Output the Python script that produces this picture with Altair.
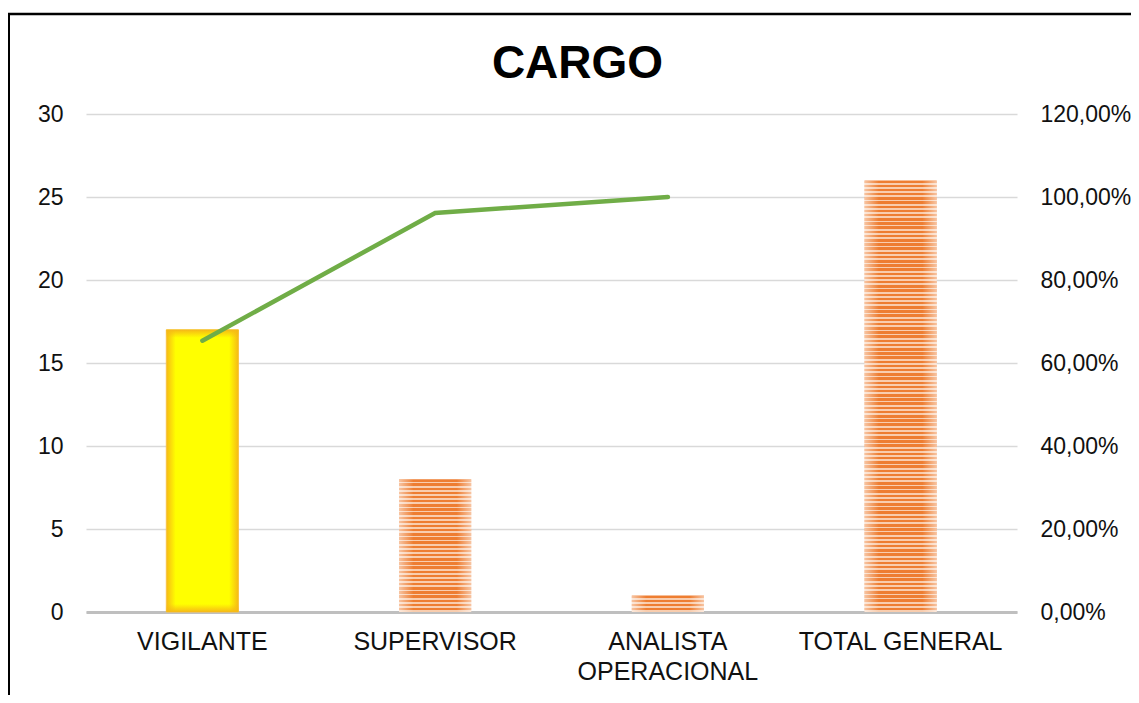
import altair as alt
import pandas as pd

# ---- data ----
categories = ["VIGILANTE", "SUPERVISOR", "ANALISTA OPERACIONAL", "TOTAL GENERAL"]
counts = [17, 8, 1, 26]
line_categories = ["VIGILANTE", "SUPERVISOR", "ANALISTA OPERACIONAL"]
cumulative_pct = [0.6538, 0.9615, 1.0]
left_ticks = [0, 5, 10, 15, 20, 25, 30]
right_ticks = [0, 0.2, 0.4, 0.6, 0.8, 1.0, 1.2]

W, H = 931, 498
PX_PER_UNIT = H / 30
FONT = "Liberation Sans"
DARK = "#EE7D31"
LIGHT = "#F9CDAE"
ORANGE_EDGE = "#F6B916"

bars_df = pd.DataFrame({"cargo": categories, "n": counts})
line_df = pd.DataFrame({"cargo": line_categories, "pct": cumulative_pct})
one_df = pd.DataFrame({"k": [0]})

label_expr = ("datum.label == 'ANALISTA OPERACIONAL' ? "
              "['ANALISTA', 'OPERACIONAL'] : datum.label")

x_axis = alt.Axis(title=None, labelAngle=0, ticks=False, domain=True,
                  domainColor="#BFBFBF", domainWidth=3, labelFontSize=25,
                  labelPadding=17, labelLineHeight=30, labelColor="#111111",
                  labelFont=FONT, labelExpr=label_expr, grid=False,
                  labelLimit=400, labelOverlap=False)
x_enc = alt.X("cargo:N", sort=categories,
              scale=alt.Scale(domain=categories, paddingInner=0.69, paddingOuter=0.345),
              axis=x_axis)

y_axis = alt.Axis(title=None, values=left_ticks, grid=True, gridColor="#D9D9D9",
                  gridWidth=1.5, domain=False, ticks=False, labelPadding=23,
                  labelFontSize=23, labelColor="#111111", labelFont=FONT)
y_enc = alt.Y("n:Q", scale=alt.Scale(domain=[0, 30], nice=False), axis=y_axis)


def stripe_gradient(value):
    n = max(1, round(value * PX_PER_UNIT / 4.2))
    stops = []
    for i in range(n):
        a = i / n
        b = (i + 0.6) / n
        c = (i + 1) / n
        stops += [alt.GradientStop(offset=a, color=DARK),
                  alt.GradientStop(offset=b, color=DARK),
                  alt.GradientStop(offset=b, color=LIGHT),
                  alt.GradientStop(offset=c, color=LIGHT)]
    return alt.LinearGradient(gradient="linear", stops=stops, x1=0, y1=0, x2=0, y2=1)


vig_fill_h = alt.LinearGradient(
    gradient="linear", x1=0, y1=0, x2=1, y2=0,
    stops=[alt.GradientStop(offset=0, color=ORANGE_EDGE),
           alt.GradientStop(offset=0.13, color="#FFFF00"),
           alt.GradientStop(offset=0.87, color="#FFFF00"),
           alt.GradientStop(offset=1, color=ORANGE_EDGE)])


def vig_fill_v(value):
    e = 8 / (value * PX_PER_UNIT)
    return alt.LinearGradient(
        gradient="linear", x1=0, y1=0, x2=0, y2=1,
        stops=[alt.GradientStop(offset=0, color="rgba(246,185,22,1)"),
               alt.GradientStop(offset=e, color="rgba(246,185,22,0)"),
               alt.GradientStop(offset=1 - e, color="rgba(246,185,22,0)"),
               alt.GradientStop(offset=1, color="rgba(246,185,22,1)")])


base = alt.Chart(bars_df)
bar_layers = [
    base.transform_filter(alt.datum.cargo == categories[0])
    .mark_bar(color=vig_fill_h, stroke="#F7C445", strokeWidth=1)
    .encode(x=x_enc, y=y_enc),
    base.transform_filter(alt.datum.cargo == categories[0])
    .mark_bar(color=vig_fill_v(counts[0]))
    .encode(x=x_enc, y=y_enc),
]
for cat, val in zip(categories[1:], counts[1:]):
    bar_layers.append(
        base.transform_filter(alt.datum.cargo == cat)
        .mark_bar(color=stripe_gradient(val))
        .encode(x=x_enc, y=y_enc)
    )

fade = alt.LinearGradient(
    gradient="linear", x1=0, y1=0, x2=1, y2=0,
    stops=[alt.GradientStop(offset=0, color="rgba(255,255,255,0.55)"),
           alt.GradientStop(offset=0.2, color="rgba(255,255,255,0)"),
           alt.GradientStop(offset=0.8, color="rgba(255,255,255,0)"),
           alt.GradientStop(offset=1, color="rgba(255,255,255,0.55)")])
bar_layers.append(
    base.transform_filter(alt.datum.cargo != categories[0])
    .mark_bar(color=fade)
    .encode(x=x_enc, y=y_enc)
)
bars = alt.layer(*bar_layers)

line = alt.Chart(line_df).mark_line(color="#70AD47", strokeWidth=4.5, strokeCap="round").encode(
    x=x_enc,
    y=alt.Y("pct:Q", scale=alt.Scale(domain=[0, 1.2], nice=False),
            axis=alt.Axis(title=None, orient="right", values=right_ticks, grid=False,
                          domain=False, ticks=False, labelPadding=23, labelFontSize=23,
                          labelColor="#111111", labelFont=FONT,
                          labelExpr="replace(format(datum.value, '.2%'), '.', ',')")),
)

border_left = alt.Chart(one_df).mark_rule(color="black", strokeWidth=2.5).encode(
    x=alt.value(-77.25), y=alt.value(-100), y2=alt.value(H + 120))
border_top = alt.Chart(one_df).mark_rule(color="black", strokeWidth=2.5).encode(
    x=alt.value(-78.5), x2=alt.value(W + 200), y=alt.value(-100))

chart = alt.layer(bars, line, border_left, border_top).resolve_scale(y="independent").properties(
    width=W, height=H,
    title=alt.TitleParams("CARGO", fontSize=46, fontWeight="bold", font=FONT,
                          anchor="middle", dx=26, offset=-111, baseline="alphabetic",
                          color="#000000"),
    autosize=alt.AutoSizeParams(type="none"),
    padding={"left": 78, "top": 106, "right": 114, "bottom": 83},
    background="white",
).configure_view(stroke=None)

chart.save("out.html", embed_options={"renderer": "svg", "actions": False})
